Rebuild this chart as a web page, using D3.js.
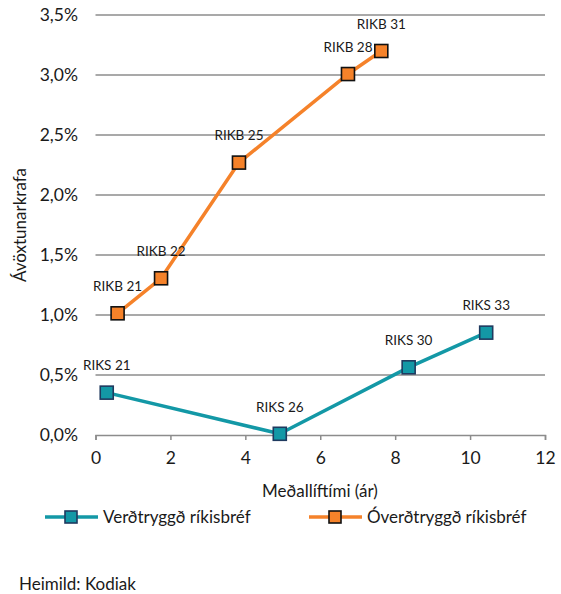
<!DOCTYPE html>
<html>
<head>
<meta charset="utf-8">
<script src="https://cdn.jsdelivr.net/npm/d3@7"></script>
<style>
  body { margin: 0; background: #fff; }
  svg { font-family: Lato, "Open Sans", sans-serif; }
</style>
</head>
<body>
<svg id="chart" width="561" height="594"></svg>
<script>
// Verðtryggð (indexed) bonds
var riksNames = ["RIKS 21", "RIKS 26", "RIKS 30", "RIKS 33"];
var riksDuration = [0.30, 4.92, 8.36, 10.43];
var riksYield = [0.353, 0.01, 0.564, 0.853];

// Óverðtryggð (nominal) bonds
var rikbNames = ["RIKB 21", "RIKB 22", "RIKB 25", "RIKB 28", "RIKB 31"];
var rikbDuration = [0.59, 1.75, 3.83, 6.74, 7.63];
var rikbYield = [1.014, 1.306, 2.27, 3.008, 3.2];

var xTicks = [0, 2, 4, 6, 8, 10, 12];
var yTicks = [0, 0.5, 1.0, 1.5, 2.0, 2.5, 3.0, 3.5];

var seriesNames = ["Verðtryggð ríkisbréf", "Óverðtryggð ríkisbréf"];

var TEAL = "#1398a6", TEAL_EDGE = "#1f3a5f";
var ORANGE = "#f5822a", ORANGE_EDGE = "#111";
var TXT = "#1a1a1a";

var svg = d3.select("#chart");

var x = d3.scaleLinear().domain([0, 12]).range([95.5, 545]);
var y = d3.scaleLinear().domain([0, 3.5]).range([435, 15]);

function fmtPct(v) { return v.toFixed(1).replace(".", ",") + "%"; }

// gridlines
svg.append("g").selectAll("line")
  .data(yTicks.filter(function(d) { return d > 0; }))
  .enter().append("line")
  .attr("x1", x(0)).attr("x2", x(12))
  .attr("y1", function(d) { return y(d); })
  .attr("y2", function(d) { return y(d); })
  .attr("stroke", "#8c8c8c").attr("stroke-width", 1.5);

// y tick labels
svg.append("g").selectAll("text")
  .data(yTicks).enter().append("text")
  .attr("x", 78).attr("y", function(d) { return y(d); })
  .attr("dy", "0.35em").attr("text-anchor", "end")
  .attr("font-size", 17.5).attr("fill", TXT)
  .text(fmtPct);

// x axis
var xAxis = d3.axisBottom(x).tickValues(xTicks).tickSize(5).tickPadding(12)
  .tickFormat(d3.format("d"));
var gx = svg.append("g").attr("transform", "translate(0," + y(0) + ")").call(xAxis);
gx.select(".domain").attr("stroke", "#8c8c8c").attr("stroke-width", 1.5);
gx.selectAll(".tick line").attr("stroke", "#8c8c8c").attr("stroke-width", 1.5);
gx.selectAll(".tick text").attr("font-size", 17.5).attr("fill", TXT)
  .attr("font-family", "Lato, 'Open Sans', sans-serif");

// axis titles
svg.append("text")
  .attr("transform", "translate(20,225) rotate(-90)")
  .attr("dy", "0.35em")
  .attr("text-anchor", "middle").attr("font-size", 17).attr("fill", TXT)
  .text("Ávöxtunarkrafa");
svg.append("text")
  .attr("x", 320).attr("y", 491).attr("dy", "0.35em")
  .attr("text-anchor", "middle").attr("font-size", 17).attr("fill", TXT)
  .text("Meðallíftími (ár)");

function drawSeries(names, xs, ys, color, edge) {
  var pts = xs.map(function(d, i) { return {name: names[i], x: d, y: ys[i]}; });
  var line = d3.line().x(function(d) { return x(d.x); }).y(function(d) { return y(d.y); });
  var g = svg.append("g");
  g.append("path").datum(pts).attr("d", line)
    .attr("fill", "none").attr("stroke", color).attr("stroke-width", 3.5)
    .attr("stroke-linejoin", "round");
  g.selectAll("rect").data(pts).enter().append("rect")
    .attr("x", function(d) { return x(d.x) - 6.5; })
    .attr("y", function(d) { return y(d.y) - 6.5; })
    .attr("width", 13).attr("height", 13)
    .attr("fill", color).attr("stroke", edge).attr("stroke-width", 1.6);
  g.selectAll("text").data(pts).enter().append("text")
    .attr("x", function(d) { return x(d.x); })
    .attr("y", function(d) { return y(d.y) - 27; })
    .attr("dy", "0.35em")
    .attr("text-anchor", "middle").attr("font-size", 13.5).attr("fill", TXT)
    .text(function(d) { return d.name; });
}

drawSeries(riksNames, riksDuration, riksYield, TEAL, TEAL_EDGE);
drawSeries(rikbNames, rikbDuration, rikbYield, ORANGE, ORANGE_EDGE);

// legend
var legend = [
  {name: seriesNames[0], x0: 45, color: TEAL, edge: TEAL_EDGE},
  {name: seriesNames[1], x0: 309, color: ORANGE, edge: ORANGE_EDGE}
];
var lg = svg.append("g").selectAll("g").data(legend).enter().append("g")
  .attr("transform", function(d) { return "translate(" + d.x0 + ",517)"; });
lg.append("line").attr("x1", 0).attr("x2", 53)
  .attr("stroke", function(d) { return d.color; }).attr("stroke-width", 3.5);
lg.append("rect").attr("x", 20).attr("y", -6).attr("width", 12).attr("height", 12)
  .attr("fill", function(d) { return d.color; })
  .attr("stroke", function(d) { return d.edge; }).attr("stroke-width", 1.6);
lg.append("text").attr("x", 58).attr("dy", "0.35em")
  .attr("font-size", 17).attr("fill", TXT)
  .text(function(d) { return d.name; });

// source
svg.append("text").attr("x", 19).attr("y", 584).attr("dy", "0.35em")
  .attr("font-size", 17).attr("fill", TXT)
  .text("Heimild: Kodiak");
</script>
</body>
</html>
